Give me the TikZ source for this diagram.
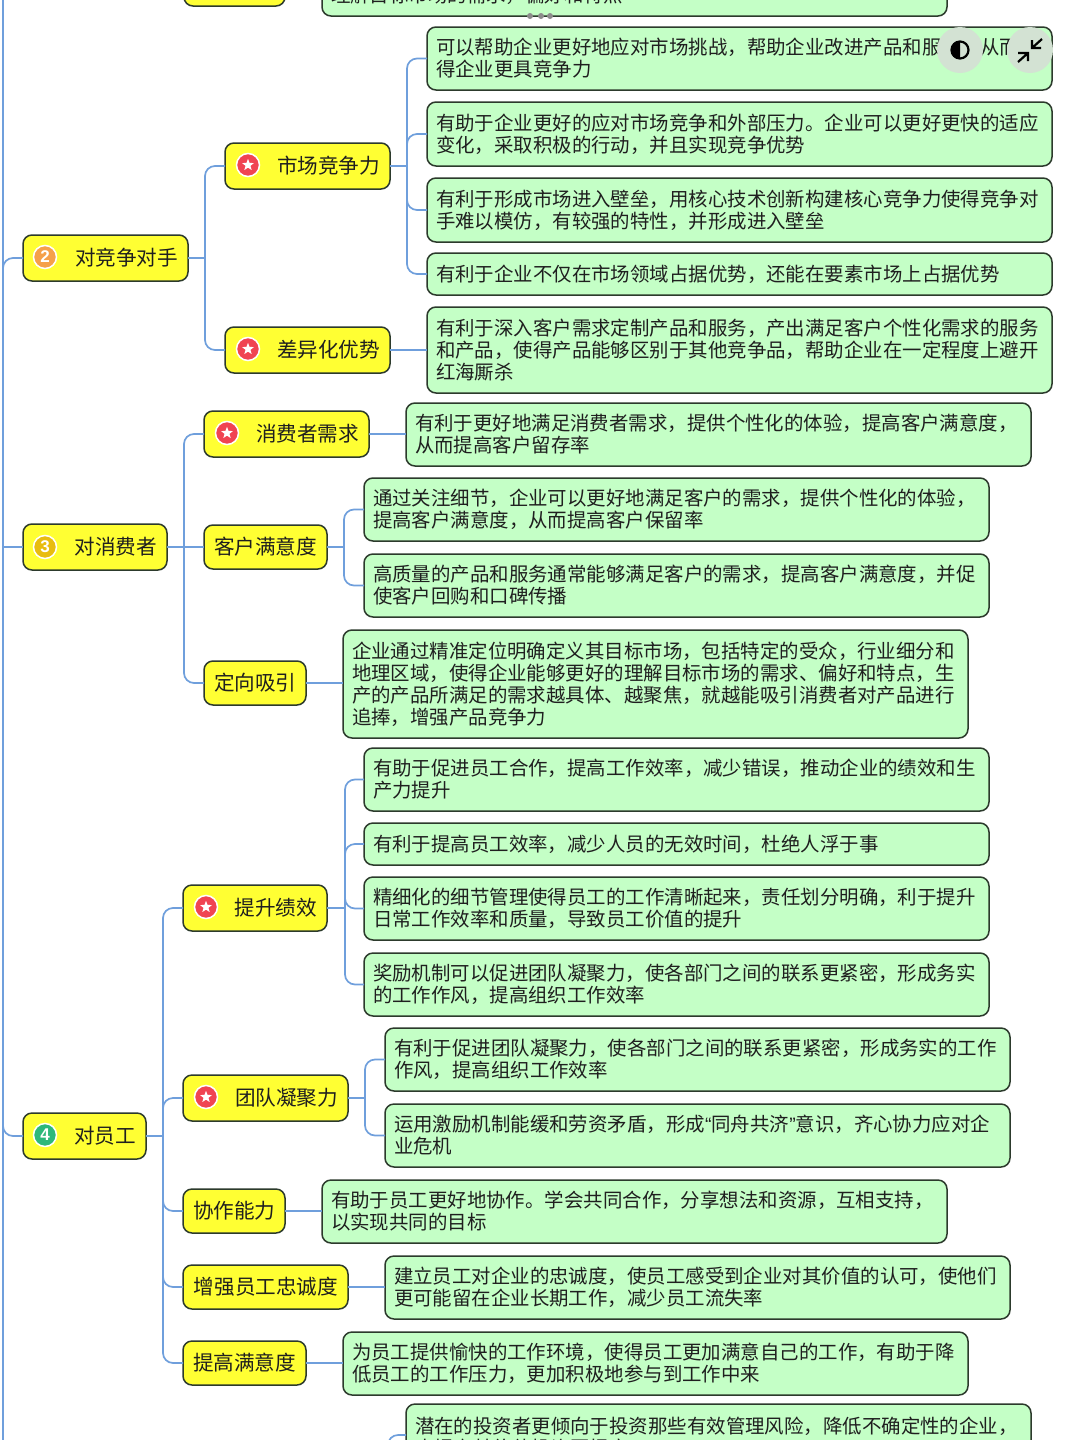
\documentclass[tikz,border=0pt]{standalone}
\usepackage{fontspec}
\setmainfont{Liberation Sans}
\newfontfamily\cjk{Noto Sans CJK SC}
\usetikzlibrary{calc,shapes.geometric}
\definecolor{yfill}{HTML}{FFFF33}
\definecolor{gfill}{HTML}{C4FFC6}
\definecolor{edgec}{HTML}{2C3A2C}
\definecolor{connc}{HTML}{6F9FDC}
\definecolor{uic}{HTML}{D3E2D3}
\definecolor{starc}{HTML}{F04452}
\definecolor{numa}{HTML}{F5A04A}
\definecolor{numb}{HTML}{E8BC10}
\definecolor{numc}{HTML}{2DB87A}
\tikzset{
  yboxn/.style={draw=edgec,fill=yfill,line width=1.5pt,rounded corners=9pt,outer sep=0pt,inner sep=0pt,align=right,text=black!88,font=\cjk\fontsize{20.6}{24}\selectfont},
  gboxn/.style={draw=edgec,fill=gfill,line width=1.5pt,rounded corners=9pt,outer sep=0pt,inner sep=0pt,align=left,text=black!88,font=\cjk\fontsize{19.44}{22}\selectfont},
  conn/.style={draw=connc,line width=1.7pt,rounded corners=10pt},
  conns/.style={draw=connc,line width=1.7pt},
  iconring/.style={circle,draw=white,line width=1.5pt,minimum size=23pt,inner sep=0pt,text=white,font=\fontsize{17}{17}\bfseries\selectfont},
  starn/.style={star,star points=5,star point ratio=2.4,fill=white,inner sep=0pt,minimum size=12.5pt},
  uibtn/.style={circle,fill=uic,minimum size=46pt,inner sep=0pt},
  dotn/.style={circle,fill=black!45,minimum size=6pt,inner sep=0pt}
}
% name, x1, y1, x2, y2, text
\newcommand{\ybx}[6]{%
  \pgfmathsetmacro{\bw}{#4-#2}\pgfmathsetmacro{\bh}{#5-#3}\pgfmathsetmacro{\tw}{#4-#2-20}%
  \node[yboxn,minimum width=\bw pt,minimum height=\bh pt,text width=\tw pt] (#1) at ({(#2+#4)/2},{(#3+#5)/2}) {#6};}
\newcommand{\gbx}[6]{%
  \pgfmathsetmacro{\bw}{#4-#2}\pgfmathsetmacro{\bh}{#5-#3}\pgfmathsetmacro{\tw}{#4-#2-18}%
  \node[gboxn,minimum width=\bw pt,minimum height=\bh pt,text width=\tw pt] (#1) at ({(#2+#4)/2},{(#3+#5)/2}) {#6};}
\newcommand{\lnk}[3]{%
  \draw[conns] (#1.east) -- ($(#1.east -| #2.west)+(-#3,0)$);
  \draw[conn] ($(#1.east -| #2.west)+(-#3,0)$) -- ($(#2.west)+(-#3,0)$) -- (#2.west);}
\newcommand{\strt}[2]{%
  \draw[conns] (#1.east) -- (#1.east -| #2.west);}
\newcommand{\staricon}[3]{%
  \node[iconring,fill=starc] (#1) at (#2,#3) {};
  \node[starn] (#1s) at (#2,#3) {};}
\newcommand{\numicon}[5]{%
  \node[iconring,fill=#5] (#1) at (#3,#4) {#2};}
\begin{document}
\begin{tikzpicture}[x=1pt,y=-1pt]
\useasboundingbox (0,0) rectangle (1080,1440);
\clip (0,0) rectangle (1080,1440);
\fill[white] (0,0) rectangle (1080,1440);

% boxes
\ybx{ytop}{184}{-40}{285}{6}{}
\gbx{gtop}{322}{-47}{947}{16}{有助于理解企业的目标市场，\\理解目标市场的需求，偏好和特点}

\ybx{comp}{23}{235}{188}{281}{对竞争对手}
\ybx{mkt}{225}{143}{390}{189}{市场竞争力}
\ybx{diff}{225}{327}{390}{373}{差异化优势}
\gbx{m1}{427}{27}{1052}{90}{可以帮助企业更好地应对市场挑战，帮助企业改进产品和服务，从而使\\得企业更具竞争力}
\gbx{m2}{427}{102}{1052}{166}{有助于企业更好的应对市场竞争和外部压力。企业可以更好更快的适应\\变化，采取积极的行动，并且实现竞争优势}
\gbx{m3}{427}{178}{1052}{242}{有利于形成市场进入壁垒，用核心技术创新构建核心竞争力使得竞争对\\手难以模仿，有较强的特性，并形成进入壁垒}
\gbx{m4}{427}{253}{1052}{295}{有利于企业不仅在市场领域占据优势，还能在要素市场上占据优势}
\gbx{d1}{427}{307}{1052}{393}{有利于深入客户需求定制产品和服务，产出满足客户个性化需求的服务\\和产品，使得产品能够区别于其他竞争品，帮助企业在一定程度上避开\\红海厮杀}

\ybx{cons}{23}{524}{167}{570}{对消费者}
\ybx{need}{204}{411}{369}{457}{消费者需求}
\ybx{sat}{204}{525}{327}{569}{客户满意度}
\ybx{aim}{204}{661}{306}{705}{定向吸引}
\gbx{n1}{406}{403}{1031}{466}{有利于更好地满足消费者需求，提供个性化的体验，提高客户满意度，\\从而提高客户留存率}
\gbx{s1}{364}{478}{989}{541}{通过关注细节，企业可以更好地满足客户的需求，提供个性化的体验，\\提高客户满意度，从而提高客户保留率}
\gbx{s2}{364}{554}{989}{617}{高质量的产品和服务通常能够满足客户的需求，提高客户满意度，并促\\使客户回购和口碑传播}
\gbx{a1}{343}{630}{968}{738}{企业通过精准定位明确定义其目标市场，包括特定的受众，行业细分和\\地理区域，使得企业能够更好的理解目标市场的需求、偏好和特点，生\\产的产品所满足的需求越具体、越聚焦，就越能吸引消费者对产品进行\\追捧，增强产品竞争力}

\ybx{emp}{23}{1113}{146}{1159}{对员工}
\ybx{perf}{183}{885}{327}{931}{提升绩效}
\ybx{team}{183}{1075}{348}{1121}{团队凝聚力}
\ybx{coop}{183}{1189}{285}{1233}{协作能力}
\ybx{loy}{183}{1265}{348}{1309}{增强员工忠诚度}
\ybx{happy}{183}{1341}{306}{1385}{提高满意度}
\gbx{p1}{364}{748}{989}{811}{有助于促进员工合作，提高工作效率，减少错误，推动企业的绩效和生\\产力提升}
\gbx{p2}{364}{823}{989}{865}{有利于提高员工效率，减少人员的无效时间，杜绝人浮于事}
\gbx{p3}{364}{877}{989}{940}{精细化的细节管理使得员工的工作清晰起来，责任划分明确，利于提升\\日常工作效率和质量，导致员工价值的提升}
\gbx{p4}{364}{953}{989}{1016}{奖励机制可以促进团队凝聚力，使各部门之间的联系更紧密，形成务实\\的工作作风，提高组织工作效率}
\gbx{t1}{385}{1028}{1010}{1091}{有利于促进团队凝聚力，使各部门之间的联系更紧密，形成务实的工作\\作风，提高组织工作效率}
\gbx{t2}{385}{1104}{1010}{1167}{运用激励机制能缓和劳资矛盾，形成{\rmfamily “}同舟共济{\rmfamily ”}意识，齐心协力应对企\\业危机}
\gbx{c1}{322}{1180}{947}{1243}{有助于员工更好地协作。学会共同合作，分享想法和资源，互相支持，\\以实现共同的目标}
\gbx{l1}{385}{1256}{1010}{1319}{建立员工对企业的忠诚度，使员工感受到企业对其价值的认可，使他们\\更可能留在企业长期工作，减少员工流失率}
\gbx{h1}{343}{1332}{968}{1395}{为员工提供愉快的工作环境，使得员工更加满意自己的工作，有助于降\\低员工的工作压力，更加积极地参与到工作中来}
\gbx{r1}{406}{1404}{1031}{1471}{潜在的投资者更倾向于投资那些有效管理风险，降低不确定性的企业，\\大提高其价值投资回报率}

% connectors
\coordinate (rootT) at (3,-10);
\coordinate (rootB) at (3,1450);
\coordinate (compc) at (3,300);
\coordinate (empc) at (3,1090);
\coordinate (r1up) at (388,1470);
\draw[conns] (rootT) -- (rootB);
\draw[conn] (compc) |- (comp.west);
\draw[conns] (cons.west -| rootT) -- (cons.west);
\draw[conn] (empc) |- (emp.west);
\lnk{comp}{mkt}{20}\lnk{comp}{diff}{20}
\lnk{mkt}{m1}{20}\lnk{mkt}{m2}{20}\lnk{mkt}{m3}{20}\lnk{mkt}{m4}{20}
\strt{diff}{d1}
\lnk{cons}{need}{20}\lnk{cons}{aim}{20}
\strt{cons}{sat}
\strt{need}{n1}
\lnk{sat}{s1}{20}\lnk{sat}{s2}{20}
\strt{aim}{a1}
\lnk{emp}{perf}{20}\lnk{emp}{team}{20}\lnk{emp}{coop}{20}\lnk{emp}{loy}{20}\lnk{emp}{happy}{20}
\lnk{perf}{p1}{19}\lnk{perf}{p2}{19}\lnk{perf}{p3}{19}\lnk{perf}{p4}{19}
\lnk{team}{t1}{20}\lnk{team}{t2}{20}
\strt{coop}{c1}
\strt{loy}{l1}
\strt{happy}{h1}
\draw[conn] (r1up) |- ($(r1.north west)+(0,31)$);

% icons
\numicon{i2}{2}{45}{257}{numa}
\numicon{i3}{3}{45}{547}{numb}
\numicon{i4}{4}{45}{1135}{numc}
\staricon{s1i}{248}{165}
\staricon{s2i}{248}{349}
\staricon{s3i}{227}{433}
\staricon{s4i}{206}{907}
\staricon{s5i}{206}{1097}

% viewer overlay
\node[dotn] (d1n) at (530,16) {};
\node[dotn] (d2n) at (541,16) {};
\node[dotn] (d3n) at (550,16) {};
\node[uibtn] (uia) at (960,50) {};
\node[uibtn] (uib) at (1030,50) {};
\begin{scope}
\clip (945,35) rectangle (960,65);
\fill[black] (uia.center) circle (9);
\end{scope}
\draw[black,line width=2.2pt] (uia.center) circle (8.5);
\draw[black,line width=2.2pt] (1042,39) -- (1032,48) (1032,40) -- (1032,48) -- (1041,48);
\draw[black,line width=2.2pt] (1018,62) -- (1028,53) (1018,53) -- (1028,53) -- (1028,61);
\end{tikzpicture}
\end{document}
